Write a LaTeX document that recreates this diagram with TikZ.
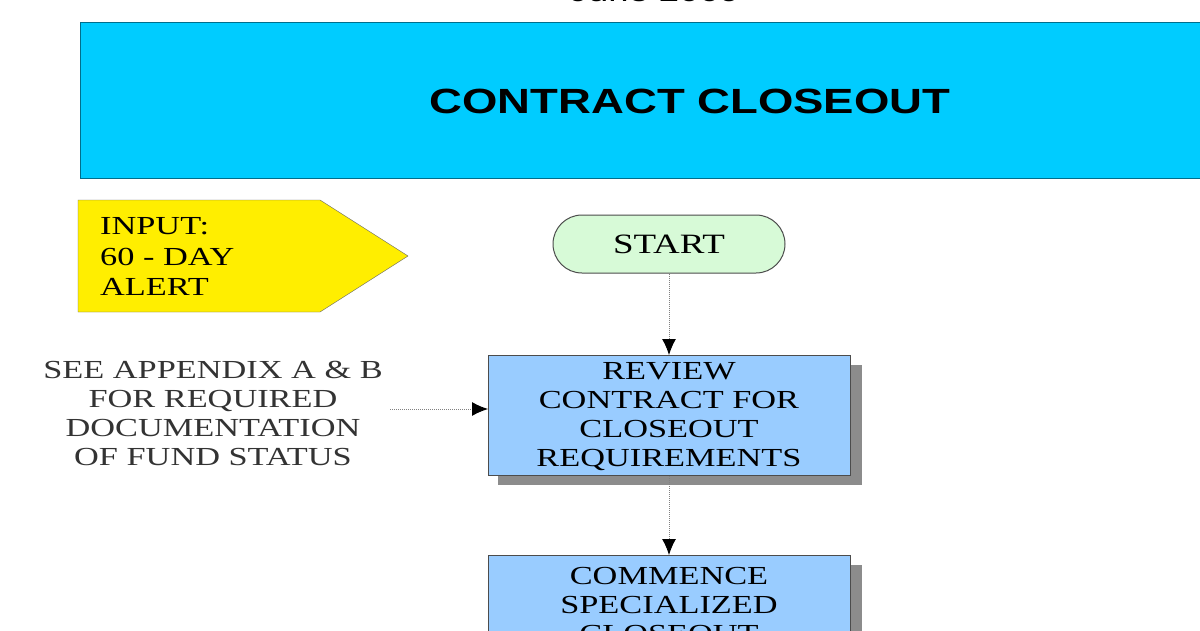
\documentclass[tikz,border=0pt]{standalone}
\usepackage{fontspec}
\usepackage{graphicx}
\setmainfont{Liberation Serif}
\setsansfont{Liberation Sans}
\newcommand{\wtxt}[2][c]{\scalebox{1.32}[1]{\begin{tabular}{@{}#1@{}}#2\end{tabular}}}
\begin{document}
\begin{tikzpicture}[x=1pt,y=-1pt,
  box/.style={draw=black!70,line width=1pt,fill={rgb,255:red,153;green,204;blue,255},minimum width=362pt,anchor=north west,inner sep=0pt},
  shadow/.style={fill=black!45},
  txt/.style={font=\fontsize{26}{29}\selectfont,inner sep=0pt},
  arr/.style={draw=black!50,densely dotted,line width=1pt,-{Latex[length=16pt,width=14pt,color=black]}}]
\usetikzlibrary{arrows.meta}
\useasboundingbox (0,0) rectangle (1200,630);
\clip (0,0) rectangle (1200,630);
\fill[white] (0,0) rectangle (1200,630);
\node[font=\sffamily\fontsize{28}{30}\selectfont,anchor=base] (date) at (655,1) {\scalebox{1.3}[1]{June 2009}};
\draw[draw={rgb,255:red,0;green,110;blue,140},line width=1pt,fill={rgb,255:red,0;green,204;blue,255}] (80,22) rectangle (1210,178);
\node[font=\sffamily\bfseries\fontsize{35}{40}\selectfont] (title) at (690,101) {\scalebox{1.3}[1]{CONTRACT CLOSEOUT}};
\draw[black!60,fill={rgb,255:red,255;green,238;blue,0}] (78,200) -- (320,200) -- (408,256) -- (320,312) -- (78,312) -- cycle;
\node[font=\fontsize{26}{30.5}\selectfont,inner sep=0pt,anchor=west] (input) at (100,259) {\wtxt[l]{INPUT:\\60 - DAY\\ALERT}};
\node[draw=black!70,line width=1pt,fill={rgb,255:red,215;green,250;blue,215},rounded corners=29pt,minimum width=232pt,minimum height=58pt,font=\fontsize{28}{30}\selectfont] (start) at (669,244) {\scalebox{1.32}[1]{START}};
\fill[shadow] (498,365) rectangle (862,485);
\node[box,minimum height=120pt] (rev) at (488,355) {};
\node[txt] (revt) at (669,417) {\wtxt{REVIEW\\CONTRACT FOR\\CLOSEOUT\\REQUIREMENTS}};
\fill[shadow] (498,565) rectangle (862,640);
\node[box,minimum height=120pt] (com) at (488,555) {};
\node[txt,anchor=north] (comt) at (669,564) {\wtxt{COMMENCE\\SPECIALIZED\\CLOSEOUT}};
\node[txt,text=black!80] (see) at (213,416) {\wtxt{SEE APPENDIX A \& B\\FOR REQUIRED\\DOCUMENTATION\\OF FUND STATUS}};
\coordinate (seeend) at (390,409);
\draw[arr] (seeend) -- (rev.west |- seeend);
\draw[arr] (start.south) -- (rev.north -| start.south);
\draw[arr] (rev.south -| start.south) -- (com.north -| start.south);
\end{tikzpicture}
\end{document}
